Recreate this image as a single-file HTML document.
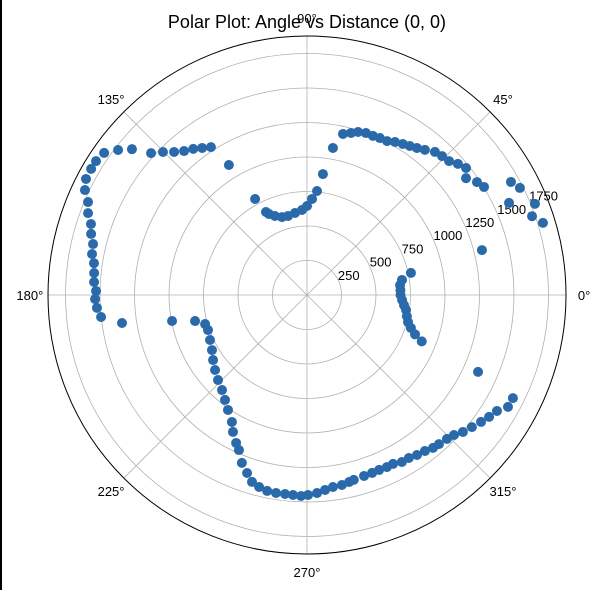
<!DOCTYPE html>
<html><head><meta charset="utf-8"><style>
html,body{margin:0;padding:0;background:#fff;}
svg{display:block;font-family:"Liberation Sans","DejaVu Sans",sans-serif;}
</style></head><body>
<svg id="chart" width="602" height="590" viewBox="0 0 602 590" xmlns="http://www.w3.org/2000/svg">
<rect x="0" y="0" width="602" height="590" fill="#fff"/>
<rect x="0" y="0" width="2" height="590" fill="#000"/>
<g id="grid"></g>
<g id="pts"></g>
<text x="307" y="28" text-anchor="middle" font-size="18" fill="#000">Polar Plot: Angle vs Distance (0, 0)</text>
</svg>
<script>
const angles = [12,9,6,3,0,-3,-6,-8.6,-12,-15,-17.6,-20,-22,
188.6,190.9,193.1,195.9,199.5,204.9,210.1,214.7,219.2,223.7,228.2,232,235.5,239.4,241.6,244.4,246.3,248.8,251.4,253.6,256,258.5,261.1,263.7,266,268.3,270.3,272.9,275.3,277.7,280.4,282.7,284.2,287.5,290.1,292.4,294.9,297,299.6,302,304.5,307.1,309.5,311.5,314.2,316.4,318.7,321.3,323.9,326.2,328.6,330.9,333.4,335.8,
77.4,74.8,72.6,70,67.5,65.1,62.5,60.1,57.6,55.4,53.2,50.9,48.2,45.8,43.3,41,38.6,36.3,33.6,31.4,29,26.7,24.5,21.8,19.3,17,14.4,80,82.5,84.5,
87,90,93.4,98.3,103.5,107.8,112.1,115.1,116.3,118.4,121,
123,125.5,127.9,130.5,132.9,135.2,137.7,140.2,142.5,145,147.6,149.7,152.3,154.7,157,159.5,161.8,164.2,166.6,169.2,171.5,174.1,176.5,178.9,181.1,183.5,186.1];
const distances = [770,697,678,678,678,690,707,726,740,758,790,833,897,
1356,996,833,768,761,775,796,828,860,892,924,965,1011,1069,1128,1189,1227,1305,1361,1412,1434,1449,1452,1451,1453,1457,1449,1437,1419,1404,1400,1389,1382,1375,1373,1371,1375,1374,1392,1393,1407,1417,1436,1443,1455,1471,1504,1531,1561,1588,1613,1667,1669,1359,
1196,1217,1238,1249,1248,1254,1257,1279,1296,1312,1330,1355,1391,1404,1415,1449,1475,1430,1479,1503,1690,1727,1609,1779,1728,1788,1309,1082,884,757,
697,645,617,601,589,593,618,648,671,791,1099,
1278,1309,1342,1372,1415,1471,1528,1651,1726,1795,1811,1812,1809,1780,1724,1694,1648,1626,1594,1586,1561,1551,1546,1529,1536,1525,1501];
const rTicks = [250,500,750,1000,1250,1500,1750];
const thetaTicks = [0,45,90,135,180,225,270,315];

const NS="http://www.w3.org/2000/svg";
const CX=307, CY=295, R=259, RMAX=1877;
const rs = v => v/RMAX*R;
const px = (a,v) => CX + rs(v)*Math.cos(a*Math.PI/180);
const py = (a,v) => CY - rs(v)*Math.sin(a*Math.PI/180);
function mk(tag, attrs, parent){const e=document.createElementNS(NS,tag);for(const k in attrs)e.setAttribute(k,attrs[k]);parent.appendChild(e);return e;}
const grid=document.getElementById('grid');
rTicks.forEach(t=>{
  const c=mk('circle',{cx:CX,cy:CY,r:rs(t),fill:'none',stroke:'#b0b0b0','stroke-width':0.8},grid);
  
  
});
thetaTicks.forEach(a=>{
  const l=mk('line',{x1:CX,y1:CY,x2:px(a,RMAX),y2:py(a,RMAX),stroke:'#b0b0b0','stroke-width':0.8},grid);
  
  
  const lr=RMAX*1.07;
  const tx=mk('text',{x:px(a,lr),y:py(a,lr)+5,'text-anchor':'middle','font-size':13,fill:'#000'},grid);
  tx.textContent=a+'\u00B0';
  
  
});
const oc=mk('circle',{cx:CX,cy:CY,r:R,fill:'none',stroke:'#000','stroke-width':1},grid);


rTicks.forEach(t=>{
  const tx=mk('text',{x:px(22.5,t)-1,y:py(22.5,t)-2,'text-anchor':'start','font-size':13,fill:'#000'},grid);
  tx.textContent=t;
  
  
});
const pts=document.getElementById('pts');
angles.forEach((a,i)=>{
  const c=mk('circle',{cx:px(a,distances[i]),cy:py(a,distances[i]),r:5,fill:'#2a6aaa'},pts);
  
  
});
</script>
</body></html>
